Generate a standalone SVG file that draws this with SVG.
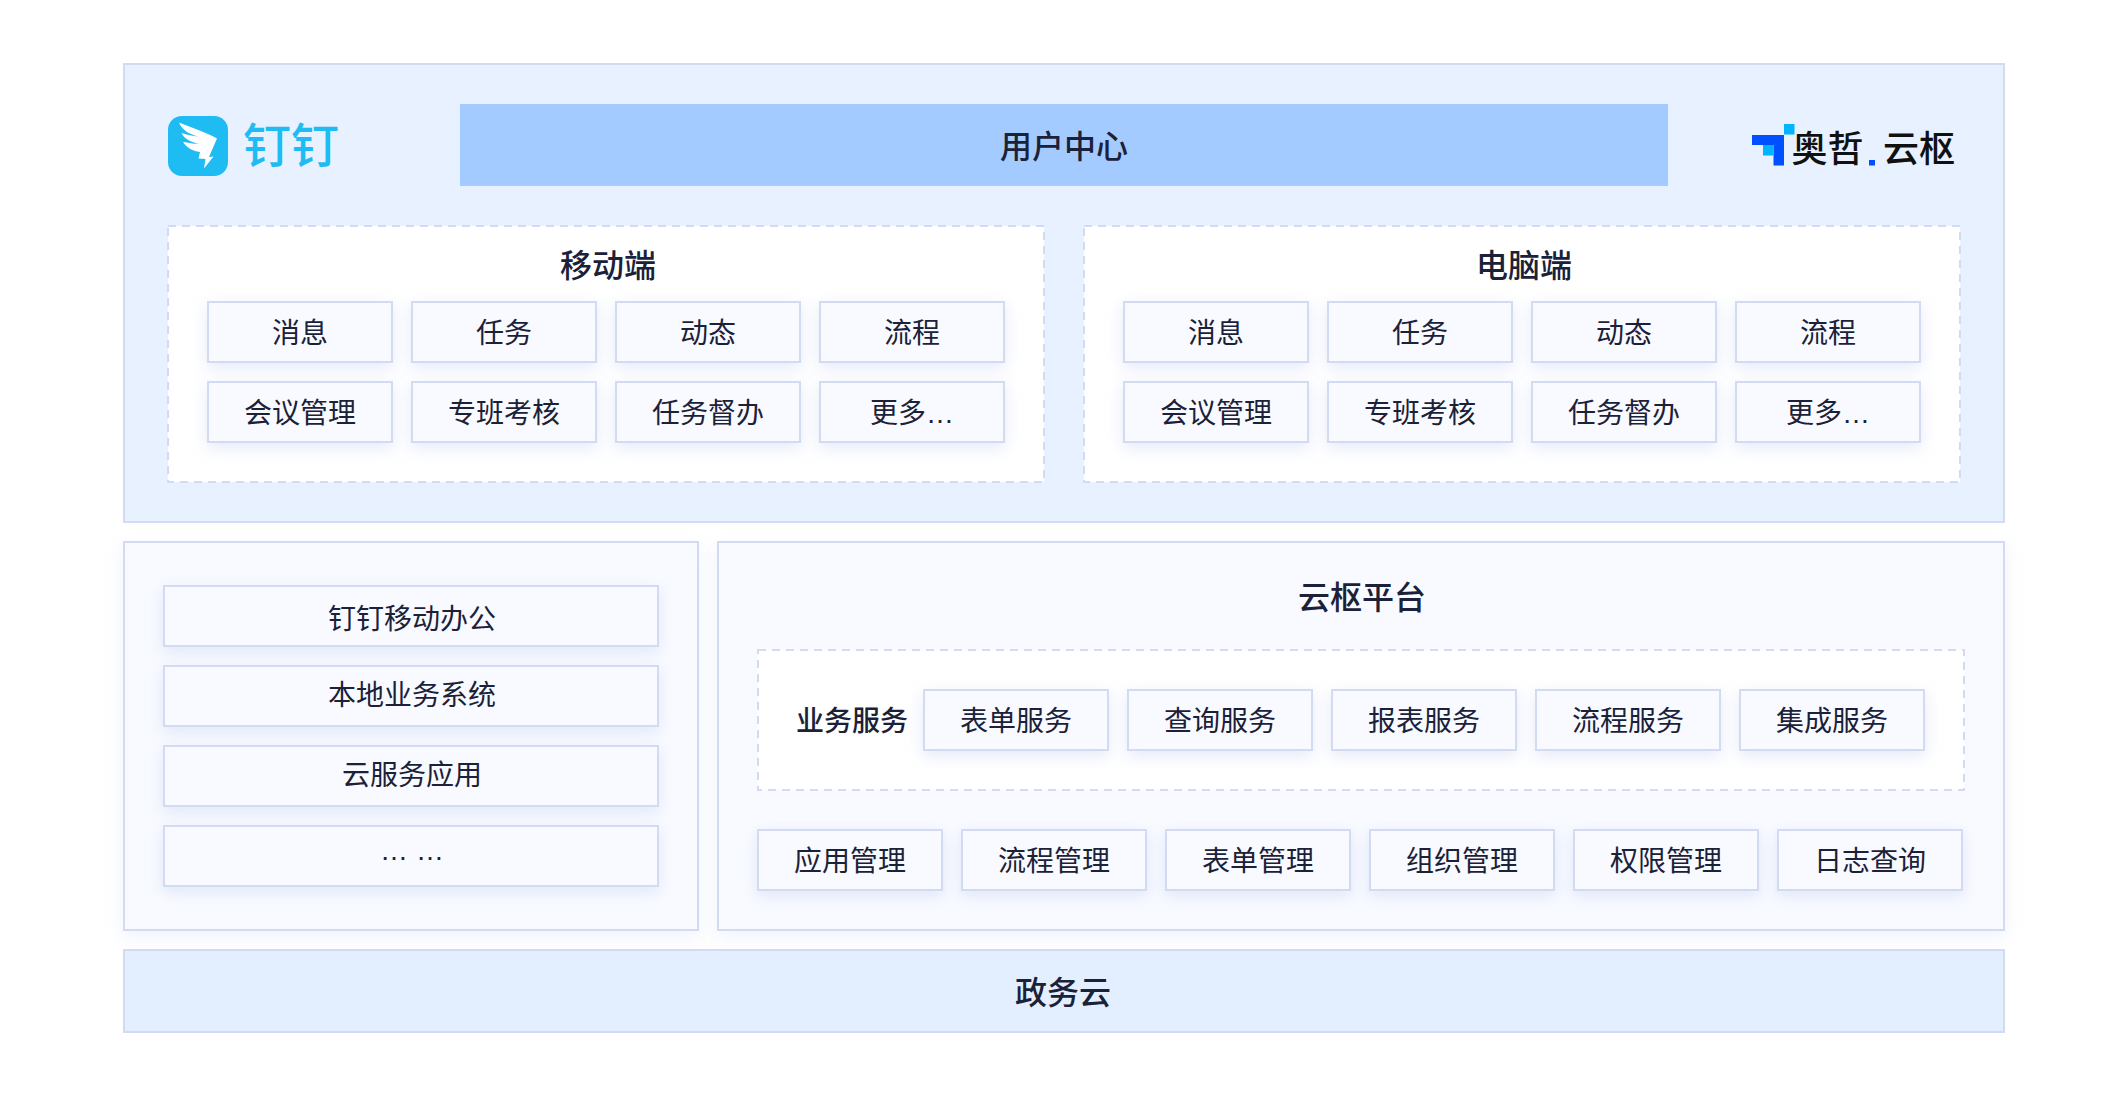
<svg xmlns="http://www.w3.org/2000/svg" width="2128" height="1096" viewBox="0 0 2128 1096">
<defs>
<filter id="sh" x="-25%" y="-50%" width="150%" height="220%"><feDropShadow dx="0" dy="5" stdDeviation="8" flood-color="#B4C2EC" flood-opacity="0.36"/></filter>
<filter id="shp" x="-5%" y="-8%" width="110%" height="116%"><feDropShadow dx="0" dy="6" stdDeviation="9" flood-color="#B9C6EC" flood-opacity="0.22"/></filter>
</defs>
<style>
text{font-family:"Noto Sans CJK SC","Noto Sans",sans-serif;fill:#1A2138;text-anchor:middle}
.panel{fill:#E7F1FF;stroke:#D3DBF3;stroke-width:2}
.soft{fill:#F8FAFF;stroke:#D3DBF3;stroke-width:2;filter:url(#shp)}
.dash{fill:#fff;stroke:#D3DBF3;stroke-width:2;stroke-dasharray:8 6}
.box{fill:#F8FAFF;stroke:#D3DBF3;stroke-width:2;filter:url(#sh)}
.t{font-size:28px}
.h{font-size:32px;font-weight:500}
.b{font-size:32px;font-weight:500}
.e{font-family:"Liberation Sans",sans-serif}
</style>
<rect width="2128" height="1096" fill="#fff"/>
<g id="top-panel"><rect class="panel" x="124" y="64" width="1880" height="458"/></g>
<g id="dingtalk-logo">
<rect x="168" y="116" width="60" height="60" rx="14" fill="#1FBBF3"/>
<path d="M179 122.500C192 128 208 133 217 138.500L209 157L213.500 156.500L204 168.500L205.500 159L198.500 158.500L200 152C192 151 186 147 183 142C190 143 196 144 199 144C191 142 184 139 181.500 133C187 135 193 136 198 136.500C189 134 182 130 179 122.500Z" fill="#fff"/>
<text x="291" y="163" style="font-size:48px;font-weight:500;fill:#1FBBF3">钉钉</text>
</g>
<g id="user-center"><rect x="460" y="104" width="1208" height="82" fill="#A3CBFF"/><text class="b" x="1064" y="158">用户中心</text></g>
<g id="aozhe-logo">
<path d="M1752 135H1784V165.500H1773.500V145H1752Z" fill="#0050FF"/>
<rect x="1763" y="145" width="10.500" height="10.500" fill="#00B4FF"/>
<rect x="1784" y="124" width="10.500" height="10.500" fill="#00B4FF"/>
<text x="1827.500" y="162" style="font-size:36px;font-weight:500;fill:#111">奥哲</text>
<rect x="1869" y="160" width="6" height="5.500" fill="#0050FF"/>
<text x="1919" y="162" style="font-size:36px;font-weight:500;fill:#111">云枢</text>
</g>
<g id="mobile">
<rect class="dash" x="168" y="226" width="876" height="256"/>
<text class="h" x="608" y="277">移动端</text>
<g id="m1"><rect class="box" x="208" y="302" width="184" height="60"/><text class="t" x="300" y="343">消息</text></g>
<g id="m2"><rect class="box" x="412" y="302" width="184" height="60"/><text class="t" x="504" y="343">任务</text></g>
<g id="m3"><rect class="box" x="616" y="302" width="184" height="60"/><text class="t" x="708" y="343">动态</text></g>
<g id="m4"><rect class="box" x="820" y="302" width="184" height="60"/><text class="t" x="912" y="343">流程</text></g>
<g id="m5"><rect class="box" x="208" y="382" width="184" height="60"/><text class="t" x="300" y="423">会议管理</text></g>
<g id="m6"><rect class="box" x="412" y="382" width="184" height="60"/><text class="t" x="504" y="423">专班考核</text></g>
<g id="m7"><rect class="box" x="616" y="382" width="184" height="60"/><text class="t" x="708" y="423">任务督办</text></g>
<g id="m8"><rect class="box" x="820" y="382" width="184" height="60"/><text class="t" x="912" y="423">更多<tspan class="e">…</tspan></text></g>
</g>
<g id="desktop">
<rect class="dash" x="1084" y="226" width="876" height="256"/>
<text class="h" x="1524" y="277">电脑端</text>
<g id="d1"><rect class="box" x="1124" y="302" width="184" height="60"/><text class="t" x="1216" y="343">消息</text></g>
<g id="d2"><rect class="box" x="1328" y="302" width="184" height="60"/><text class="t" x="1420" y="343">任务</text></g>
<g id="d3"><rect class="box" x="1532" y="302" width="184" height="60"/><text class="t" x="1624" y="343">动态</text></g>
<g id="d4"><rect class="box" x="1736" y="302" width="184" height="60"/><text class="t" x="1828" y="343">流程</text></g>
<g id="d5"><rect class="box" x="1124" y="382" width="184" height="60"/><text class="t" x="1216" y="423">会议管理</text></g>
<g id="d6"><rect class="box" x="1328" y="382" width="184" height="60"/><text class="t" x="1420" y="423">专班考核</text></g>
<g id="d7"><rect class="box" x="1532" y="382" width="184" height="60"/><text class="t" x="1624" y="423">任务督办</text></g>
<g id="d8"><rect class="box" x="1736" y="382" width="184" height="60"/><text class="t" x="1828" y="423">更多<tspan class="e">…</tspan></text></g>
</g>
<g id="left-panel">
<rect class="soft" x="124" y="542" width="574" height="388"/>
<g id="l1"><rect class="box" x="164" y="586" width="494" height="60"/><text class="t" x="412" y="629">钉钉移动办公</text></g>
<g id="l2"><rect class="box" x="164" y="666" width="494" height="60"/><text class="t" x="412" y="705">本地业务系统</text></g>
<g id="l3"><rect class="box" x="164" y="746" width="494" height="60"/><text class="t" x="412" y="785">云服务应用</text></g>
<g id="l4"><rect class="box" x="164" y="826" width="494" height="60"/><text class="t e" x="412" y="860">… …</text></g>
</g>
<g id="platform">
<rect class="soft" x="718" y="542" width="1286" height="388"/>
<text class="b" x="1362" y="609">云枢平台</text>
<rect class="dash" x="758" y="650" width="1206" height="140"/>
<text class="t" x="852" y="731" style="font-weight:500">业务服务</text>
<g id="s1"><rect class="box" x="924" y="690" width="184" height="60"/><text class="t" x="1016" y="731">表单服务</text></g>
<g id="s2"><rect class="box" x="1128" y="690" width="184" height="60"/><text class="t" x="1220" y="731">查询服务</text></g>
<g id="s3"><rect class="box" x="1332" y="690" width="184" height="60"/><text class="t" x="1424" y="731">报表服务</text></g>
<g id="s4"><rect class="box" x="1536" y="690" width="184" height="60"/><text class="t" x="1628" y="731">流程服务</text></g>
<g id="s5"><rect class="box" x="1740" y="690" width="184" height="60"/><text class="t" x="1832" y="731">集成服务</text></g>
<g id="a1"><rect class="box" x="758" y="830" width="184" height="60"/><text class="t" x="850" y="871">应用管理</text></g>
<g id="a2"><rect class="box" x="962" y="830" width="184" height="60"/><text class="t" x="1054" y="871">流程管理</text></g>
<g id="a3"><rect class="box" x="1166" y="830" width="184" height="60"/><text class="t" x="1258" y="871">表单管理</text></g>
<g id="a4"><rect class="box" x="1370" y="830" width="184" height="60"/><text class="t" x="1462" y="871">组织管理</text></g>
<g id="a5"><rect class="box" x="1574" y="830" width="184" height="60"/><text class="t" x="1666" y="871">权限管理</text></g>
<g id="a6"><rect class="box" x="1778" y="830" width="184" height="60"/><text class="t" x="1870" y="871">日志查询</text></g>
</g>
<g id="gov-cloud"><rect x="124" y="950" width="1880" height="82" fill="#E3EFFF" stroke="#D3DBF3" stroke-width="2"/><text class="b" x="1063" y="1004">政务云</text></g>
</svg>
